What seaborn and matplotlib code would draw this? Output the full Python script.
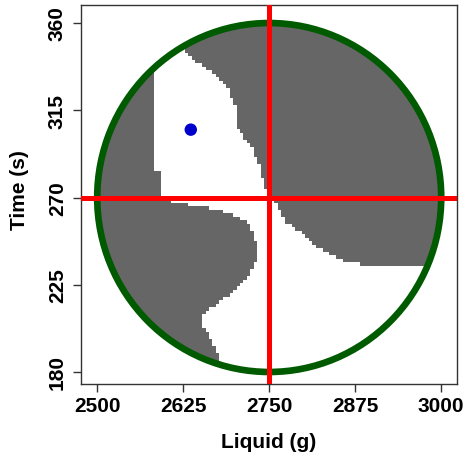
import numpy as np
import matplotlib
matplotlib.use("Agg")
import matplotlib.pyplot as plt
from matplotlib.patches import Ellipse
from matplotlib.colors import ListedColormap
import seaborn as sns

# ---------------- data ----------------
x_ticks = [2500, 2625, 2750, 2875, 3000]
y_ticks = [180, 225, 270, 315, 360]
center_liquid = 2750
center_time = 270
radius_liquid = 250
radius_time = 90

point_liquid = [2636]
point_time = [305]

# grid of the design-space raster
grid_liquid = np.arange(2500, 3001, 5)
grid_time = np.linspace(180, 360, 101)

# left edge of the white (feasible) band, liquid value per time
left_edge_time = [185, 189.3, 195.5, 202.2, 203.7, 208.9, 213.5, 218.7, 228.0, 237.3,
                  243.4, 250.2, 257.4, 260.5, 264.1, 269.2, 283.5, 284.0, 360]
left_edge_liquid = [2680, 2675, 2668, 2659, 2652, 2652, 2668, 2688, 2717, 2732,
                    2732, 2729, 2717, 2703, 2668, 2591, 2590, 2584, 2584]
# right edge of the white band
right_edge_time = [180, 235.0, 235.7, 237.3, 240.9, 245.0, 252.7, 257.4, 264.1, 269.2,
                   270.0, 275.4, 282.1, 289.9, 297.6, 305.3, 318.2, 326.0, 332.7,
                   338.9, 346.6, 348.0, 360]
right_edge_liquid = [3100, 3100, 2882, 2857, 2838, 2819, 2794, 2775, 2765, 2755,
                     2752, 2744, 2739, 2732, 2722, 2704, 2700, 2690, 2674,
                     2649, 2624, 2560, 2560]

# ---------------- figure ----------------
sns.set_style("white")
plt.rcParams['font.family'] = ['Liberation Sans', 'DejaVu Sans']
plt.rcParams['font.weight'] = 'bold'
plt.rcParams['text.color'] = 'black'
plt.rcParams['xtick.color'] = '#333333'
plt.rcParams['ytick.color'] = '#333333'
plt.rcParams['xtick.labelcolor'] = 'black'
plt.rcParams['ytick.labelcolor'] = 'black'
plt.rcParams['axes.labelcolor'] = 'black'

fig = plt.figure(figsize=(4.64, 4.60), dpi=100)
ax = fig.add_axes([80.7 / 464, (460 - 385) / 460, 376 / 464, 379 / 460])

GX, GY = np.meshgrid(grid_liquid, grid_time)
inside = ((GX - center_liquid) / radius_liquid) ** 2 + ((GY - center_time) / radius_time) ** 2 <= 1.0
lo = np.interp(GY, left_edge_time, left_edge_liquid)
hi = np.interp(GY, right_edge_time, right_edge_liquid)
white = (GX > lo) & (GX < hi)
Z = np.where(white, 0.0, 1.0)
Z = np.where(inside, Z, np.nan)

dx = grid_liquid[1] - grid_liquid[0]
dy = grid_time[1] - grid_time[0]
xe = np.append(grid_liquid - dx / 2, grid_liquid[-1] + dx / 2)
ye = np.append(grid_time - dy / 2, grid_time[-1] + dy / 2)
cmap = ListedColormap(["#FFFFFF", "#666666"])
ax.pcolormesh(xe, ye, np.ma.masked_invalid(Z), cmap=cmap, vmin=0, vmax=1,
              shading="flat", antialiased=False, edgecolors="none", zorder=1)

ax.add_patch(Ellipse((center_liquid, center_time), 2 * radius_liquid, 2 * radius_time,
                     fill=False, edgecolor="#005a00", linewidth=4.8, zorder=2))
ax.axvline(center_liquid, color="#FF0000", linewidth=3.6, zorder=3)
ax.axhline(center_time, color="#FF0000", linewidth=3.6, zorder=3)

sns.scatterplot(x=point_liquid, y=point_time, color="#0000CD", s=80,
                edgecolor="none", ax=ax, zorder=4)

ax.set_xlim(2476, 3022.5)
ax.set_ylim(173.8, 369.3)
ax.set_xticks(x_ticks)
ax.set_yticks(y_ticks)
ax.set_xticklabels([str(v) for v in x_ticks], fontsize=15, fontweight="bold", color="black")
ax.set_yticklabels([str(v) for v in y_ticks], fontsize=15, fontweight="bold",
                   rotation=90, va="center", color="black")
ax.tick_params(axis="both", direction="out", length=6, width=1, color="#333333",
               bottom=True, left=True)
ax.tick_params(axis="x", pad=3)
ax.tick_params(axis="y", pad=4)
for s in ax.spines.values():
    s.set_color("#333333")
    s.set_linewidth(1.0)
    s.set_visible(True)

ax.set_xlabel("Liquid (g)", fontsize=15, fontweight="bold", va="center", color="black")
ax.set_ylabel("Time (s)", fontsize=15, fontweight="bold", va="center", color="black")
ax.xaxis.set_label_coords(0.5, -(443 - 385) / 379)
ax.yaxis.set_label_coords(-(80.7 - 20) / 376, (385 - 190) / 379)

fig.savefig("out.png", dpi=100)
